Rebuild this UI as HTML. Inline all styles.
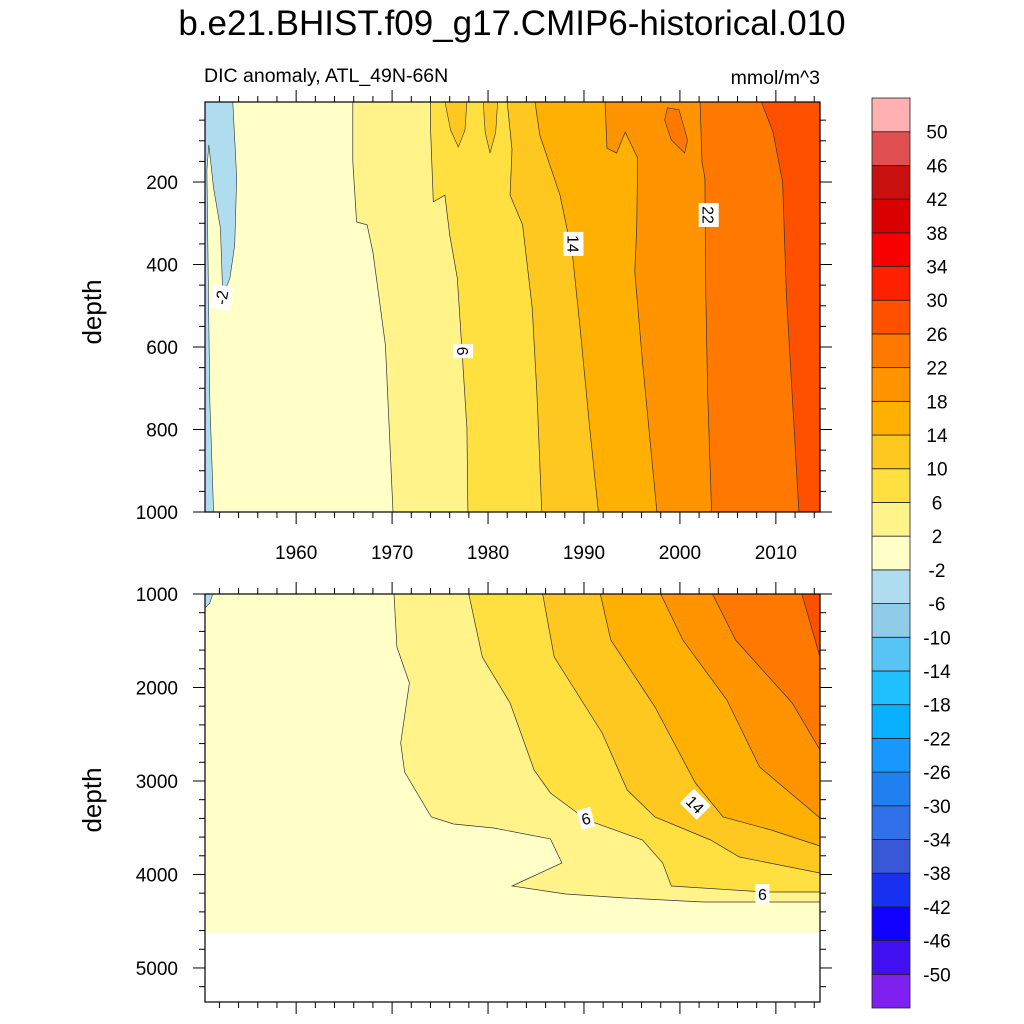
<!DOCTYPE html>
<html><head><meta charset="utf-8"><style>
html,body{margin:0;padding:0;background:#fff}
svg{display:block;font-family:"Liberation Sans",Arial,sans-serif}
</style></head><body>
<svg id="chart" width="1024" height="1024" viewBox="0 0 1024 1024" xmlns="http://www.w3.org/2000/svg">
<text x="512" y="35" text-anchor="middle" font-size="35">b.e21.BHIST.f09_g17.CMIP6-historical.010</text>
<text x="204" y="82" font-size="19.5">DIC anomaly, ATL_49N-66N</text>
<text x="820" y="84" text-anchor="end" font-size="19.5">mmol/m^3</text>
<text transform="translate(101,312) rotate(-90)" text-anchor="middle" font-size="26">depth</text>
<text transform="translate(101,800) rotate(-90)" text-anchor="middle" font-size="26">depth</text>
<g id="top"></g>
<g id="bot"></g>
<g id="cbar"></g>
</svg>
<script>
// ---- data ----
const levels = [-50,-46,-42,-38,-34,-30,-26,-22,-18,-14,-10,-6,-2,2,6,10,14,18,22,26,30,34,38,42,46,50];
const colors = ["#8020f0","#4010f0","#1000ff","#1830f0","#3858d8","#3070e8","#2080f0","#1898ff","#08b0ff","#20c0ff","#58c4f4","#90cce8","#b0dcf0","#ffffc8","#fff38a","#ffe040","#ffc820","#ffb000","#ff9400","#ff7800","#ff5000","#ff2000","#f80000","#d80000","#c81010","#e05050","#ffb0b0"];
const yearRange = [1950.5, 2014.6];
const xTicksMajor = [1960,1970,1980,1990,2000,2010];
const topDepthRange = [6, 1000];
const topTicks = [200,400,600,800,1000];
const botDepthRange = [1000, 5364];
const botTicks = [1000,2000,3000,4000,5000];
const botDataBottom = 4620;
// contour lines [year, depth] for levels (upper panel, 0-1000 m)
const topC2  = [[1965.9,6],[1965.9,150],[1966.3,297],[1967.4,304],[1968.0,370],[1969.3,595],[1969.7,796],[1970.1,1000]];
const topC6  = [[1974.0,6],[1974.0,69],[1974.3,248],[1975.5,232],[1976.0,328],[1976.8,433],[1977.3,612],[1977.8,796],[1977.9,1000]];
const topC10 = [[1982.0,6],[1982.5,122],[1982.3,232],[1983.6,304],[1984.6,505],[1985.1,716],[1985.6,1000]];
const topC14 = [[1984.9,6],[1985.4,86],[1987.5,232],[1988.8,377],[1989.6,554],[1990.6,796],[1991.5,1000]];
const topC18 = [[1992.2,6],[1992.4,118],[1993.4,130],[1994.3,79],[1995.6,142],[1995.5,312],[1995.3,418],[1996.1,636],[1997.6,1000]];
const topC22 = [[2002.1,6],[2002.3,152],[2002.6,190],[2002.7,474],[2002.9,716],[2003.3,1000]];
const topC26 = [[2008.5,6],[2009.7,79],[2010.7,200],[2011.1,474],[2011.7,716],[2012.4,1000]];
const topNeg2 = [[1950.5,6],[1953.4,6],[1953.8,190],[1953.6,353],[1953.1,433],[1952.4,474],[1952.3,442],[1952.1,312],[1951.4,215],[1950.9,110],[1950.7,171],[1950.8,365],[1951.0,729],[1951.4,1000],[1950.5,1000]];
const topIsland10a = [[1975.5,6],[1977.8,6],[1977.6,74],[1976.9,115],[1976.1,74]];
const topIsland10b = [[1979.5,6],[1981.0,6],[1980.8,80],[1980.2,130],[1979.7,80]];
const topIsland22 = [[1998.7,20],[1999.9,25],[2000.8,98],[2000.5,130],[1999.1,98],[1998.4,50]];
// lower panel (1000 m - bottom)
const botC2  = [[1970.2,1000],[1970.5,1567],[1971.8,1952],[1970.9,2594],[1971.3,2904],[1974.1,3385],[1976.4,3460],[1980.6,3503],[1986.5,3620],[1987.7,3877],[1982.5,4123],[1988.1,4209],[1994.1,4251],[2002.4,4294],[2014.6,4294]];
const botC6  = [[1978.0,1000],[1979.4,1674],[1982.3,2166],[1984.8,2882],[1986.5,3128],[1990.3,3417],[1996.1,3631],[1998.2,3877],[1999.1,4123],[2008.8,4187],[2014.6,4187]];
const botC10 = [[1985.7,1000],[1986.9,1674],[1991.9,2487],[1994.5,3096],[1997.4,3385],[2003.2,3631],[2006.2,3813],[2014.6,3984]];
const botC14 = [[1991.7,1000],[1992.8,1492],[1997.4,2209],[2001.6,3021],[2004.5,3385],[2009.5,3524],[2014.6,3695]];
const botC18 = [[1998.0,1000],[2000.3,1492],[2004.9,2134],[2008.3,2850],[2014.6,3396]];
const botC22 = [[2003.4,1000],[2005.8,1492],[2011.7,2166],[2014.6,2668]];
const botC26 = [[2012.7,1000],[2014.6,1674]];
const botNeg2 = [[1950.5,1000],[1951.3,1000],[1951.0,1096],[1950.5,1150]];
const topLabels = [["-2",1952.2,480,-80],["6",1977.4,610,90],["14",1988.9,350,90],["22",2003.0,280,90]];
const botLabels = [["6",1990.2,3400,-15],["14",2001.6,3250,45],["6",2008.6,4210,0]];

// ---- drawing ----
const NS="http://www.w3.org/2000/svg";
const X0=205,X1=820;
function sx(yr){return X0+(yr-yearRange[0])/(yearRange[1]-yearRange[0])*(X1-X0);}
function mk(tag,attrs,parent){const e=document.createElementNS(NS,tag);for(const k in attrs)e.setAttribute(k,attrs[k]);parent.appendChild(e);return e;}
function colorFor(lv){return colors[levels.indexOf(lv)+1];}

function panel(g,Y0,Y1,dr,ticksMaj,minorStep,contours,neg,islands,labels,dataBottom,showXLabels,name){
  const sy=d=>Y0+(d-dr[0])/(dr[1]-dr[0])*(Y1-Y0);
  const clipId='clip-'+name;
  const cp=mk('clipPath',{id:clipId},g);mk('rect',{x:X0,y:Y0,width:X1-X0,height:Y1-Y0},cp);
  const fg=mk('g',{'clip-path':'url(#'+clipId+')'},g);
  const bg=mk('rect',{x:X0,y:Y0,width:X1-X0,height:sy(Math.min(dataBottom,dr[1]))-Y0,fill:colors[13]},fg);
  
  
  const pt=p=>sx(p[0]).toFixed(1)+','+sy(p[1]).toFixed(1);
  contours.forEach(([lv,pts])=>{
    const first=pts[0],last=pts[pts.length-1];
    const poly=pts.concat([[yearRange[1]+1,last[1]],[yearRange[1]+1,first[1]-50]]);
    const p=mk('polygon',{points:poly.map(pt).join(' '),fill:colorFor(lv)},fg);
    
    
  });
  islands.forEach(([lv,pts])=>{
    const p=mk('polygon',{points:pts.map(pt).join(' '),fill:colorFor(lv),stroke:'#333','stroke-width':0.6},fg);
    
    
  });
  const np=mk('polygon',{points:neg.map(pt).join(' '),fill:colors[12],stroke:'#333','stroke-width':0.6},fg);
  
  
  contours.forEach(([lv,pts])=>{
    const l=mk('polyline',{points:pts.map(pt).join(' '),fill:'none',stroke:'#333','stroke-width':0.7},fg);
    
    
  });
  labels.forEach(([t,yr,d,rot])=>{
    const cx=sx(yr),cy=sy(d);
    const lg=mk('g',{transform:`translate(${cx},${cy}) rotate(${rot})`},fg);
    
    
    const w=t.length*10+4;
    mk('rect',{x:-w/2,y:-10,width:w,height:20,fill:'#fff'},lg);
    mk('text',{x:0,y:6,'text-anchor':'middle','font-size':16},lg).textContent=t;
  });
  const fr=mk('rect',{x:X0,y:Y0,width:X1-X0,height:Y1-Y0,fill:'none',stroke:'#000','stroke-width':1.2},g);
  
  
  for(let d=Math.ceil(dr[0]/minorStep)*minorStep; d<=dr[1]; d+=minorStep){
    const y=sy(d),maj=ticksMaj.includes(d),L=maj?12:6;
    mk('line',{x1:X0,x2:X0-L,y1:y,y2:y,stroke:'#000','stroke-width':1},g);
    mk('line',{x1:X1,x2:X1+L,y1:y,y2:y,stroke:'#000','stroke-width':1},g);
  }
  ticksMaj.forEach(d=>{
    const t=mk('text',{x:178,y:sy(d)+7,'text-anchor':'end','font-size':19},g);
    
    
    t.textContent=d;
  });
  for(let yr=1952; yr<=2014; yr+=2){
    const x=sx(yr),maj=xTicksMajor.includes(yr),L=maj?12:6;
    mk('line',{x1:x,x2:x,y1:Y1,y2:Y1+L,stroke:'#000','stroke-width':1},g);
    mk('line',{x1:x,x2:x,y1:Y0,y2:Y0-L,stroke:'#000','stroke-width':1},g);
  }
  if(showXLabels) xTicksMajor.forEach(yr=>{
    const t=mk('text',{x:sx(yr),y:Y1+47,'text-anchor':'middle','font-size':19},g);
    
    
    t.textContent=yr;
  });
}
const topContours=[[2,topC2],[6,topC6],[10,topC10],[14,topC14],[18,topC18],[22,topC22],[26,topC26]];
const botContours=[[2,botC2],[6,botC6],[10,botC10],[14,botC14],[18,botC18],[22,botC22],[26,botC26]];
panel(document.getElementById('top'),102,512,topDepthRange,topTicks,50,topContours,topNeg2,[[10,topIsland10a],[10,topIsland10b],[22,topIsland22]],topLabels,1000,true,'upper');
panel(document.getElementById('bot'),594,1002,botDepthRange,botTicks,200,botContours,botNeg2,[],botLabels,botDataBottom,false,'lower');

const cb=document.getElementById('cbar');
const CB0=98,CB1=1008,nb=colors.length,bh=(CB1-CB0)/nb;
for(let i=0;i<nb;i++){
  const r=mk('rect',{x:872,y:CB1-(i+1)*bh,width:38,height:bh,fill:colors[i],stroke:'#222','stroke-width':0.8},cb);
  
  
}
levels.forEach((lv,i)=>{
  const t=mk('text',{x:937,y:CB1-(i+1)*bh+7,'text-anchor':'middle','font-size':19},cb);
  
  
  t.textContent=lv;
});
</script>
</body></html>
